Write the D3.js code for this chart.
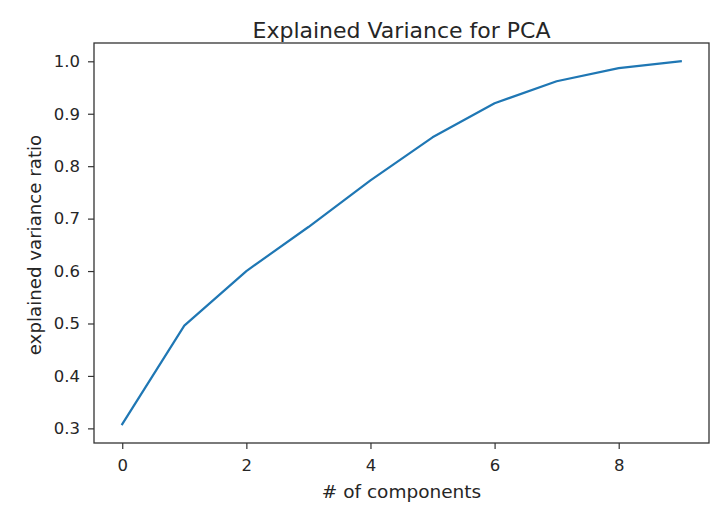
<!DOCTYPE html>
<html>
<head>
<meta charset="utf-8">
<script src="https://cdn.jsdelivr.net/npm/d3@7"></script>
<style>
body{margin:0;background:#fff;}
text{font-family:"DejaVu Sans",sans-serif;fill:#262626;}
</style>
</head>
<body>
<svg id="chart" width="724" height="513"></svg>
<script>
const components = [0,1,2,3,4,5,6,7,8,9];
const explainedVariance = [0.308,0.496,0.600,0.684,0.773,0.855,0.920,0.962,0.987,1.000];
const xTicks = [0,2,4,6,8];
const yTicks = [0.3,0.4,0.5,0.6,0.7,0.8,0.9,1.0];
const title = "Explained Variance for PCA";
const xLabel = "# of components";
const yLabel = "explained variance ratio";

const svg = d3.select("#chart");
const L=94, R=709, T=43, B=443;
const x = d3.scaleLinear().domain([-0.455,9.455]).range([L,R]);
const y = d3.scaleLinear().domain([0.2721,1.0349]).range([B,T]);

const line = d3.line().x((d,i)=>x(components[i])).y(d=>y(d));
svg.append("path").datum(explainedVariance)
  .attr("d",line).attr("fill","none").attr("stroke","#1f77b4")
  .attr("stroke-width",2.2).attr("stroke-linejoin","round").attr("stroke-linecap","square");

const tickFont = 16.5;
const xAxis = svg.append("g").attr("transform",`translate(0,${B})`)
  .call(d3.axisBottom(x).tickValues(xTicks).tickFormat(d3.format("d")).tickSize(6).tickPadding(10.5));
const yAxis = svg.append("g").attr("transform",`translate(${L},0)`)
  .call(d3.axisLeft(y).tickValues(yTicks).tickFormat(d3.format(".1f")).tickSize(6).tickPadding(8));
[xAxis,yAxis].forEach(g=>{
  g.select(".domain").remove();
  g.selectAll(".tick line").attr("stroke","#333").attr("stroke-width",1.2);
  g.selectAll(".tick text").attr("font-size",tickFont+"px").attr("fill","#262626")
    .style("font-family","'DejaVu Sans',sans-serif");
});

svg.append("rect").attr("x",L).attr("y",T).attr("width",R-L).attr("height",B-T)
  .attr("fill","none").attr("stroke","#333").attr("stroke-width",1.3);

svg.append("text").attr("x",(L+R)/2).attr("y",37.5).attr("text-anchor","middle")
  .attr("font-size","22px").text(title);
svg.append("text").attr("x",(L+R)/2).attr("y",497.5).attr("text-anchor","middle")
  .attr("font-size","18.5px").text(xLabel);
svg.append("text").attr("transform",`translate(41,245) rotate(-90)`).attr("text-anchor","middle")
  .attr("font-size","18.2px").text(yLabel);
</script>
</body>
</html>
